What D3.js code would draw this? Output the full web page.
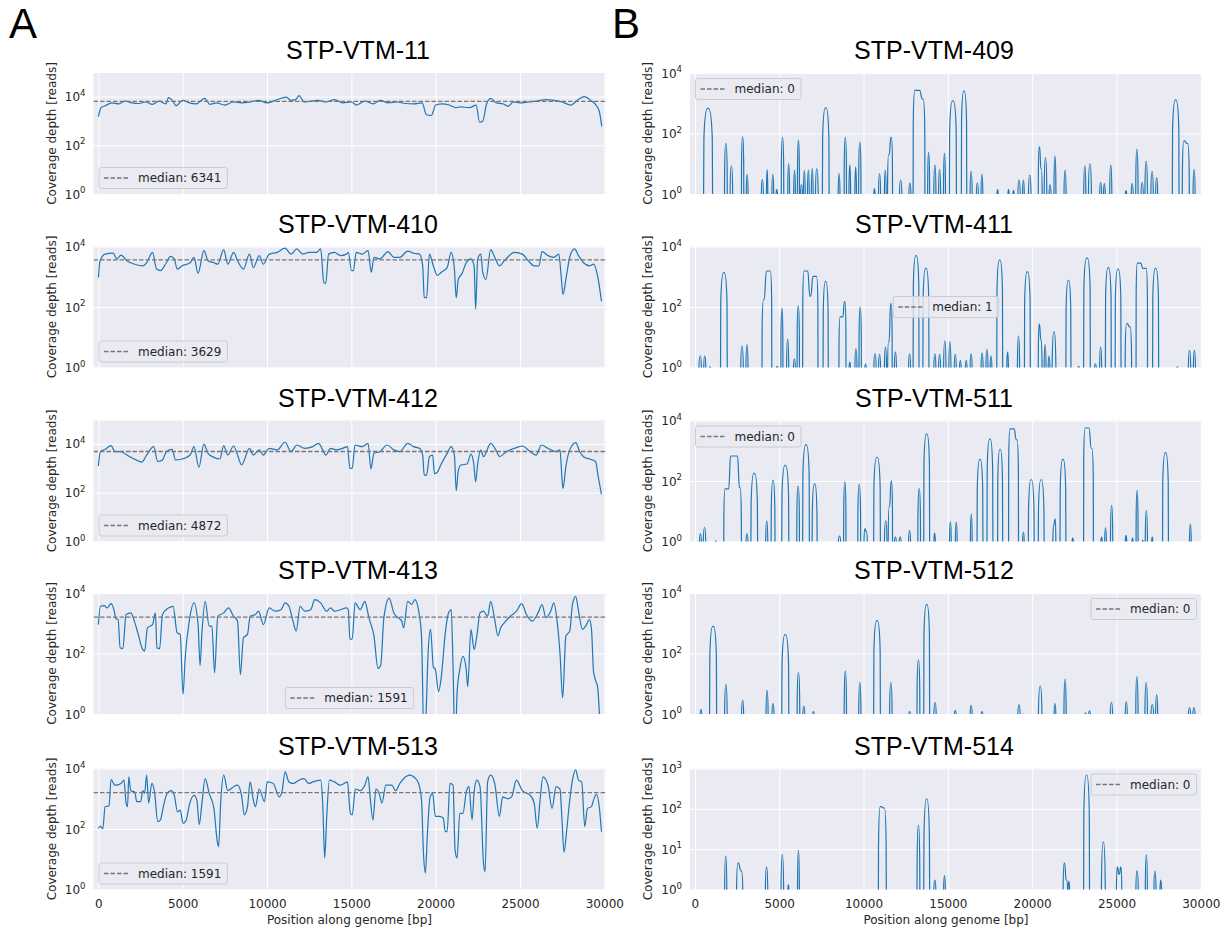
<!DOCTYPE html>
<html>
<head>
<meta charset="utf-8">
<script src="https://cdn.jsdelivr.net/npm/d3@7"></script>
<style>
  body { margin: 0; background: #fff; }
  svg { display: block; font-family: 'DejaVu Sans', sans-serif; }
</style>
</head>
<body>
<svg width="1229" height="932"></svg>
<script>
'use strict';

// ---- data: column A (continuous coverage), [position bp, depth reads]
var cov11 = [[0,1500],[150,3500],[400,4200],[800,5500],[1200,5000],[1600,6500],[2000,5500],[2400,5200],[2800,6000],[3200,4800],[3600,6500],[4000,5000],[4150,9000],[4450,6000],[4600,4200],[5000,7000],[5400,5500],[5800,5000],[6300,8500],[6600,4800],[7000,5500],[7500,4500],[8000,6000],[8500,5500],[9000,6000],[9500,7000],[10000,5500],[10500,7000],[11150,9500],[11400,7000],[11700,7500],[11900,11000],[12200,6000],[12600,6500],[13000,7000],[13500,6000],[14000,7500],[14500,5500],[15000,6000],[15300,4500],[15800,6500],[16300,5000],[16700,7000],[17200,5500],[17700,6000],[18200,5200],[18700,5000],[19200,5500],[19450,1800],[19750,1700],[20000,4500],[20400,5000],[20800,4500],[21200,3500],[21500,3800],[22000,3500],[22400,4500],[22600,900],[22800,1000],[23000,4500],[23260,8500],[23600,5500],[24000,5000],[24300,4000],[24600,6000],[25000,5500],[25500,6000],[26000,6500],[26500,7500],[27000,7000],[27500,6000],[28000,4500],[28500,8000],[28800,10000],[29200,7000],[29500,4500],[29700,2500],[29850,600]];

var cov410 = [[0,940],[100,3400],[400,5600],[870,6000],[1100,3900],[1340,5200],[1690,3400],[2160,2600],[2630,2300],[2860,2900],[3210,6400],[3450,1800],[3680,1600],[4030,2900],[4270,4700],[4500,3900],[4670,1800],[4970,2300],[5440,2900],[5670,4400],[5910,1300],[6260,7300],[6500,3400],[6850,2900],[7080,2600],[7430,7900],[7670,2600],[8020,6400],[8250,3400],[8600,1800],[8960,5600],[9190,2000],[9540,5000],[9780,2600],[10130,5600],[10600,6400],[11070,8800],[11420,5600],[11770,8300],[12120,5600],[12480,6400],[12940,6400],[13180,8300],[13370,640],[13480,600],[13650,5600],[14000,6400],[14350,5000],[14700,5600],[14820,6400],[15010,1600],[15120,1600],[15290,6400],[15640,5600],[15990,7300],[16180,1400],[16340,4400],[16700,3900],[17170,6800],[17520,4400],[17870,4400],[18340,7000],[18690,6000],[19040,5600],[19230,2300],[19320,215],[19460,200],[19630,5600],[19860,2300],[20100,1100],[20330,1400],[20680,2000],[20920,6400],[21110,1800],[21220,200],[21340,820],[21570,1300],[21810,2900],[22090,3900],[22280,2300],[22370,85],[22490,3900],[22680,5600],[22790,1400],[22980,820],[23260,7900],[23500,4400],[23780,2300],[24080,3400],[24670,6400],[25140,5600],[25490,3400],[25840,2300],[26120,2300],[26310,6800],[26660,5000],[27010,4400],[27300,5600],[27440,1070],[27550,260],[27720,820],[27950,4400],[28230,8300],[28470,5000],[28770,2900],[29120,2300],[29360,2600],[29640,820],[29830,155]];

var cov412 = [[0,1250],[120,4840],[400,6000],[750,8500],[985,4800],[1340,4800],[1690,3500],[2160,2350],[2580,1800],[2860,3500],[3280,7700],[3520,1900],[3800,2200],[4030,4800],[4380,6000],[4570,2200],[4970,2400],[5440,3500],[5670,7700],[5960,1100],[6260,9700],[6500,4100],[6850,2800],[7200,2400],[7430,8500],[7670,3500],[8020,8200],[8250,3500],[8490,1370],[8960,6600],[9190,3500],[9540,5700],[9780,3500],[10130,6600],[10600,5700],[11070,11700],[11420,4800],[11770,9000],[12240,6600],[12710,7700],[13060,10600],[13300,5700],[13480,3500],[13770,6600],[14120,5700],[14470,6600],[14770,7700],[14910,1000],[15050,1000],[15220,9000],[15640,7700],[15990,10600],[16160,950],[16340,4100],[16700,4800],[17120,9000],[17520,5700],[17870,4800],[18340,10600],[18690,7700],[19040,6600],[19230,3500],[19320,530],[19460,530],[19630,3000],[19820,3500],[19930,600],[20100,700],[20330,1500],[20680,4100],[20920,7700],[21110,3500],[21220,120],[21340,800],[21500,1370],[21860,1500],[22090,3800],[22260,1500],[22370,280],[22490,1500],[22680,5700],[22840,3000],[23260,10600],[23620,4800],[23780,3000],[24200,4800],[24670,6600],[25140,8200],[25610,4800],[25960,3500],[26270,9000],[26660,6600],[27140,4800],[27370,5700],[27490,380],[27550,150],[27720,1180],[27950,5700],[28300,11300],[28540,4800],[28770,3000],[29120,2400],[29480,1900],[29640,450],[29830,85]];

var cov413 = [[0,900],[120,3640],[350,3800],[520,3200],[750,4450],[940,2500],[1030,1440],[1170,1320],[1290,155],[1450,145],[1640,1940],[1920,2200],[2160,1050],[2340,480],[2580,155],[2740,120],[2910,700],[3210,900],[3380,2200],[3470,155],[3630,145],[3800,1940],[4150,3200],[4430,3640],[4670,480],[4850,430],[5020,4.5],[5140,63],[5390,1180],[5670,4700],[5910,900],[6030,40],[6140,480],[6330,5300],[6570,800],[6730,800],[6890,23],[7080,1700],[7430,2200],[7710,3200],[8020,1700],[8250,1180],[8420,20],[8600,330],[8840,430],[9000,1700],[9310,1940],[9500,2500],[9780,900],[10130,3200],[10480,2500],[10830,2800],[11070,4700],[11300,3640],[11540,1180],[11730,550],[11960,3640],[12240,2500],[12590,2800],[12830,6000],[13180,4700],[13530,2500],[13770,3200],[14000,2500],[14350,2800],[14700,3200],[14820,2800],[14910,300],[15050,300],[15220,4700],[15520,2800],[15800,5300],[16040,1530],[16340,380],[16580,32],[16740,41],[16930,1530],[17240,6800],[17520,2200],[17750,1530],[17990,1180],[18100,700],[18340,5300],[18580,4150],[18760,6000],[19040,1700],[19160,380],[19320,0],[19440,1.4],[19560,135],[19700,630],[19860,36],[19980,30],[20170,5.5],[20330,16],[20570,480],[20760,2200],[20920,2800],[21030,36],[21150,0],[21270,5],[21430,30],[21620,80],[21810,30],[21900,8],[22090,630],[22280,135],[22440,380],[22630,2200],[22840,2500],[23080,1700],[23260,5300],[23500,1320],[23690,380],[23850,700],[24080,1050],[24430,1700],[24790,2500],[25100,4450],[25380,1940],[25730,1180],[26070,2200],[26310,4150],[26540,1530],[26820,2500],[27010,4700],[27200,1180],[27370,105],[27530,3.4],[27720,380],[27950,550],[28110,4150],[28300,7750],[28490,2200],[28700,630],[28890,800],[29120,1320],[29240,630],[29360,26],[29480,13],[29600,8],[29710,1]];

var cov513 = [[0,105],[120,125],[260,100],[400,550],[630,580],[750,4300],[985,2800],[1340,3200],[1520,4100],[1640,720],[1730,550],[1800,5300],[1920,1850],[2160,1650],[2270,800],[2510,800],[2630,1850],[2740,1500],[2860,6000],[2980,720],[3170,3200],[3330,1650],[3520,175],[3680,200],[3870,620],[4080,1500],[4310,1850],[4500,1300],[4690,370],[4850,420],[5020,155],[5210,200],[5390,620],[5670,1300],[5840,900],[5980,140],[6140,720],[6330,4600],[6570,1500],[6850,480],[7040,43],[7130,26],[7250,720],[7430,6000],[7670,1850],[8020,2500],[8250,2800],[8490,1300],[8650,290],[8840,550],[9000,3600],[9190,900],[9310,550],[9540,2100],[9850,800],[10010,3600],[10370,3200],[10720,1150],[10880,1650],[11070,7700],[11300,3600],[11540,3200],[11890,4100],[12190,4600],[12480,3200],[12710,3600],[13180,4100],[13300,720],[13420,11],[13530,200],[13700,4100],[14000,3600],[14350,2800],[14770,3600],[14940,330],[15050,290],[15240,2100],[15520,1850],[15800,2800],[15990,5300],[16130,900],[16280,200],[16460,2100],[16650,1500],[16810,720],[17050,2800],[17400,2800],[17630,1850],[17870,3200],[18100,4600],[18460,6000],[18810,4600],[18990,3200],[19160,900],[19280,14],[19390,3.5],[19510,70],[19670,1150],[19820,1500],[19980,260],[20210,260],[20450,230],[20570,82],[20680,82],[20850,3200],[21030,2800],[21150,20],[21270,11],[21430,330],[21620,330],[21810,1650],[21970,2500],[22160,200],[22280,1650],[22440,4100],[22630,2500],[22840,7],[22930,3.9],[23080,3600],[23260,6000],[23500,3200],[23780,260],[23970,1150],[24260,1000],[24500,1150],[24790,4100],[25140,1850],[25610,1300],[25840,720],[26020,105],[26190,900],[26360,5300],[26660,2800],[26900,480],[27140,2500],[27370,2100],[27490,200],[27610,17],[27770,93],[27950,900],[28110,4100],[28300,9000],[28470,4100],[28660,3600],[28840,120],[29000,480],[29240,550],[29360,900],[29530,1400],[29710,480],[29830,82]];

// ---- data: column B (covered islands), [start bp, end bp, depth plateau(s)...]
var peaks409 = [[515,1050,680],[1755,1920,46],[2080,2250,8.4],[2760,2900,77],[3040,3160,4.4],[3930,4070,3],[4240,4330,6.4],[4560,4680,4.4],[4800,4910,1.4],[5120,5270,73],[5500,5620,10],[5850,5970,6],[6080,6200,60],[6250,6390,2],[6430,6550,5.8],[6670,6790,6],[6900,7020,6.8],[7140,7320,6.8],[7560,7960,700],[8490,8610,4.6],[8850,8990,74],[9130,9240,9],[9480,9590,7.7],[9710,9850,52],[10600,10690,1.5],[10880,11020,4.6],[11230,11350,6],[11420,11720,20,74],[12120,12280,2.9],[12680,12820,2.3],[12940,13640,2650,2650,1400],[13800,13920,24],[14160,14300,9],[14440,14580,6.4],[14740,14860,22],[15090,15510,1200],[15800,16120,2500],[16310,16450,5.5],[16680,16820,2.3],[16960,17080,4.4],[17900,18000,1.4],[18550,18650,1.4],[18840,18950,1.3],[19140,19300,2.9],[19420,19540,2.9],[19770,19940,4.1],[20360,20600,36,6.8],[20710,20870,16],[20990,21130,2],[21290,21410,18],[21880,22020,6],[23050,23190,8.4],[23330,23520,10],[23990,24130,2.4],[24220,24340,2.2],[24590,24730,9],[25510,25620,1.3],[25860,26000,2.2],[26140,26280,30],[26440,26600,2.4],[26680,26840,12],[27030,27190,5.5],[27310,27450,3.4],[28310,28710,1300],[28900,29320,57,46],[29530,29670,6.4]];

var peaks411 = [[230,400,2.4],[515,655,2.4],[820,960,1.05],[1520,1920,1360],[2710,2880,5],[3020,3160,5.6],[3980,4560,175,1550,1550],[4800,4940,1.1],[5100,5220,90],[5430,5570,8.5],[5830,5970,1.9],[6060,6200,110],[6390,7300,1550,1550,230,1030,1030],[7600,7910,700],[8540,8960,47,47,150],[9130,9240,1.5],[9480,9620,4.1],[9730,9870,100],[10060,10180,1.3],[10600,10760,2.8],[10880,11020,2.7],[11230,11370,4.6],[11420,11700,7,130],[11820,11960,3.2],[12660,12800,2.8],[12940,13290,4960],[13520,13880,1900],[14160,14300,2.8],[14440,14580,2.7],[14740,14900,7.5],[15050,15190,7],[15370,15510,2.7],[15680,15800,1.7],[16030,16150,1.7],[16310,16450,2.8],[16960,17100,3],[17250,17390,3.8],[17500,17620,2.4],[17900,18250,3560],[18490,18600,3.2],[19120,19260,11],[19540,19890,1440],[20360,20590,27,8],[20700,20830,5.6],[20940,21060,2.4],[21180,21410,15],[22000,22300,760],[22700,22820,1.1],[23050,23450,4150],[23680,23820,1.3],[23990,24130,4.6],[24340,24690,2000],[24920,25270,1780],[25510,25900,28,22],[26160,26840,2800,2800,1900,1900],[27140,27500,1900],[28550,28660,1.05],[29250,29410,3.6],[29550,29690,3.6]];

var peaks511 = [[260,400,1.8],[490,655,2.9],[1190,1290,1.05],[1710,2760,55,55,670,670,670,60],[3020,3160,1.8],[3320,3720,180],[4190,4330,4.7],[4520,4750,105],[5150,5570,330],[6040,6200,66],[6390,6790,1570],[6950,7250,80],[8490,8660,1.5],[8820,8960,93],[9660,9830,77],[10020,10230,2.6,2.1],[10600,11000,610],[11230,11400,4.7],[11460,11720,14,100],[11820,11960,1.4],[12100,12240,1.4],[12660,12800,2.3],[13220,13380,55],[13570,13920,3570],[14160,14270,1.9],[15090,15210,4.5],[15440,15560,4.3],[16330,16450,8],[16730,17080,520],[17320,17670,2430],[17950,18250,1120],[18600,19190,5250,5250,2300],[19420,19540,2],[19770,20120,110],[20360,20710,110],[21220,21410,3.5,5.5],[21650,22000,520],[22350,22460,1.3],[23050,23630,5660,5660,1210],[24060,24170,1.4],[24290,24410,2.8],[24640,24780,15.5],[25510,25620,1.6],[25900,26000,1.3],[26160,26280,48],[26510,26600,1.1],[26700,26840,10.5],[27070,27170,1.4],[27730,28080,870],[29320,29440,3.7]];

var peaks512 = [[300,420,1.4],[870,1290,790],[1755,1920,9.3],[2760,2900,2.8],[4210,4350,5.9],[4560,4700,2.2],[5150,5570,420],[6060,6220,23],[6390,6530,1.8],[6970,7090,1.2],[8850,8990,26],[9710,9850,11],[10600,11000,1230],[11540,11700,11],[12660,12800,1.2],[13170,13340,60],[13570,13920,4150],[14160,14320,2.4],[15370,15510,1.3],[16310,16450,1.9],[16960,17100,1.2],[19140,19300,2],[19420,19540,1],[20360,20590,8.2],[21290,21410,2.2],[21880,22020,14],[23120,23210,1.1],[23330,23470,1.25],[24620,24780,2.4],[25510,25650,2.5],[26140,26280,17],[26680,26840,11],[27030,27210,2],[27310,27450,4.3],[29250,29410,1.6],[29510,29670,1.6]];

var peaks514 = [[1755,1900,6.7],[2460,2850,4.5,2.9],[4170,4330,3.6],[5100,5270,7.2],[5500,5590,1.3],[6080,6200,9.3],[10880,11350,114,105],[13170,13340,39],[13570,13920,175],[14160,14300,1.7],[14740,14860,2.2],[21830,22110,4.5,1.7],[22120,22230,1.6],[23050,23400,690],[24100,24340,15],[24990,25320,3.6,2.4,3.6],[26140,26300,2.9],[26700,26840,7.2],[27210,27350,2.8],[27570,27680,1.7]];

var leftNames = ['STP-VTM-11', 'STP-VTM-410', 'STP-VTM-412', 'STP-VTM-413', 'STP-VTM-513'];
var rightNames = ['STP-VTM-409', 'STP-VTM-411', 'STP-VTM-511', 'STP-VTM-512', 'STP-VTM-514'];
var leftMedians = [6341, 3629, 4872, 1591, 1591];
var rightMedians = [0, 1, 0, 0, 0];
var leftYMax = [93000, 10000, 91000, 10000, 10000];
var rightYMax = [10000, 10000, 10000, 10000, 1000];
var leftLegendLoc = ['lower left', 'lower left', 'lower left', 'lower center', 'lower left'];
var rightLegendLoc = ['upper left', 'center', 'upper left', 'upper right', 'upper right'];
var xTicks = [0, 5000, 10000, 15000, 20000, 25000, 30000];

// ---- layout
var PLOT_W = 512, PLOT_H = 121;
var COL_X = [93.5, 690];
var ROW_Y = [73, 246.5, 420.5, 593, 768.5];
var TITLE_SHIFT = [8.5, -12];
var X_DOMAIN = [-290, 30070];
var BG = '#eaeaf2', LINE = '#1f77b4', TEXT = '#262626';

var svg = d3.select('svg');

// one covered island: steep log-scale flanks, rounded top, optional shoulders
function bumpPath(p, x, y, yBottom, decade) {
    var hs = p.slice(2);
    var x0 = x(p[0]), x1 = x(p[1]);
    var n = hs.length, seg = (x1 - x0) / n;
    var r = Math.min(seg * 0.45, 5);
    var t = Math.min(seg * 0.35, 2.5);
    var path = d3.path();

    var yt = y(hs[0]);
    var d = Math.min(decade, yBottom - yt);
    path.moveTo(x0, yBottom);
    path.lineTo(x0 + r * 0.08, yt + d);
    path.bezierCurveTo(x0 + r * 0.25, yt + d * 0.3, x0 + r * 0.5, yt, x0 + r, yt);

    for (var i = 1; i < n; i++) {
        var xm = x0 + i * seg, ya = y(hs[i - 1]), yb = y(hs[i]);
        path.lineTo(xm - t, ya);
        path.bezierCurveTo(xm, ya, xm, yb, xm + t, yb);
    }

    var yl = y(hs[n - 1]);
    d = Math.min(decade, yBottom - yl);
    path.lineTo(x1 - r, yl);
    path.bezierCurveTo(x1 - r * 0.5, yl, x1 - r * 0.25, yl + d * 0.3, x1 - r * 0.08, yl + d);
    path.lineTo(x1, yBottom);
    return path.toString();
}

function legend(g, loc, label) {
    var h = 21, pad = 5.5;
    var lg = g.append('g');
    var box = lg.append('rect')
        .attr('height', h).attr('rx', 2.5)
        .attr('fill', BG).attr('fill-opacity', 0.8)
        .attr('stroke', '#cccccc').attr('stroke-width', 1);
    lg.append('line')
        .attr('x1', 5).attr('x2', 29).attr('y1', h / 2).attr('y2', h / 2)
        .attr('stroke', '#777').attr('stroke-width', 1.3).attr('stroke-dasharray', '4.5,2');
    var txt = lg.append('text')
        .attr('x', 39).attr('y', h / 2 + 4.3)
        .attr('font-size', 12).attr('fill', TEXT)
        .text(label);
    var w = 39 + txt.node().getComputedTextLength() + 6;
    box.attr('width', w);
    var lx = pad, ly = pad;
    if (loc.indexOf('right') >= 0) lx = PLOT_W - pad - w;
    if (loc === 'lower center' || loc === 'center') lx = (PLOT_W - w) / 2;
    if (loc.indexOf('lower') >= 0) ly = PLOT_H - pad - h;
    if (loc === 'center') ly = (PLOT_H - h) / 2;
    lg.attr('transform', 'translate(' + lx + ',' + ly + ')');
}

function drawPanel(col, row, cfg) {
    var x = d3.scaleLinear().domain(X_DOMAIN).range([0, PLOT_W]);
    var y = d3.scaleLog().domain([1, cfg.ymax]).range([PLOT_H, 0]);
    var g = svg.append('g')
        .attr('transform', 'translate(' + COL_X[col] + ',' + ROW_Y[row] + ')');
    var clipId = 'clip-' + col + '-' + row;

    g.append('clipPath').attr('id', clipId)
        .append('rect').attr('width', PLOT_W).attr('height', PLOT_H);
    g.append('rect').attr('width', PLOT_W).attr('height', PLOT_H).attr('fill', BG);

    var yTicks = cfg.yTicks;

    // grid
    g.append('g')
        .call(d3.axisBottom(x).tickValues(xTicks).tickSize(PLOT_H).tickFormat(''))
        .call(function(a) {
            a.select('.domain').remove();
            a.selectAll('line').attr('stroke', '#fff').attr('stroke-width', 1);
        });
    g.append('g')
        .call(d3.axisLeft(y).tickValues(yTicks).tickSize(-PLOT_W).tickFormat(''))
        .call(function(a) {
            a.select('.domain').remove();
            a.selectAll('line').attr('stroke', '#fff').attr('stroke-width', 1);
        });

    // y tick labels 10^n
    var yl = g.append('g').attr('font-size', 12).attr('fill', TEXT);
    yl.selectAll('text')
        .data(yTicks)
        .enter()
        .append('text')
        .attr('x', -8)
        .attr('y', function(d) { return y(d) + 4.5; })
        .attr('text-anchor', 'end')
        .each(function(d) {
            var t = d3.select(this);
            t.append('tspan').text('10');
            t.append('tspan').attr('dy', -5.5).attr('font-size', 8.5)
                .text(Math.round(Math.log10(d)));
        });

    var plot = g.append('g').attr('clip-path', 'url(#' + clipId + ')');

    if (cfg.cov) {
        var line = d3.line()
            .curve(d3.curveMonotoneX)
            .x(function(d) { return x(d[0]); })
            .y(function(d) { return y(Math.max(d[1], 0.05)); });
        plot.append('path')
            .datum(cfg.cov)
            .attr('d', line)
            .attr('fill', 'none')
            .attr('stroke', LINE)
            .attr('stroke-width', 1.2)
            .attr('stroke-linejoin', 'round');
    } else {
        var decade = y(1) - y(10);
        plot.selectAll('path.peak')
            .data(cfg.peaks)
            .enter()
            .append('path')
            .attr('class', 'peak')
            .attr('d', function(p) { return bumpPath(p, x, y, PLOT_H + 4, decade); })
            .attr('fill', 'none')
            .attr('stroke', LINE)
            .attr('stroke-width', 1.2);
    }

    if (cfg.median > 1) {
        plot.append('line')
            .attr('x1', 0).attr('x2', PLOT_W)
            .attr('y1', y(cfg.median)).attr('y2', y(cfg.median))
            .attr('stroke', '#777').attr('stroke-width', 1.3)
            .attr('stroke-dasharray', '4.5,2');
    }

    legend(g, cfg.loc, 'median: ' + cfg.median);

    // title
    g.append('text')
        .attr('x', PLOT_W / 2 + TITLE_SHIFT[col])
        .attr('y', -14)
        .attr('text-anchor', 'middle')
        .attr('font-family', "'Liberation Sans', Arial, sans-serif")
        .attr('font-size', 25)
        .attr('fill', '#000')
        .text(cfg.name);

    // y label
    g.append('text')
        .attr('transform', 'translate(-38,' + (PLOT_H / 2) + ') rotate(-90)')
        .attr('text-anchor', 'middle')
        .attr('font-size', 12)
        .attr('fill', TEXT)
        .text('Coverage depth [reads]');

    if (row === 4) {
        g.append('g')
            .attr('transform', 'translate(0,' + PLOT_H + ')')
            .call(d3.axisBottom(x).tickValues(xTicks).tickSize(0).tickPadding(9.5).tickFormat(d3.format('d')))
            .call(function(a) {
                a.select('.domain').remove();
                a.selectAll('text').attr('font-size', 12).attr('fill', TEXT)
                    .attr('font-family', "'DejaVu Sans', sans-serif");
            });
        g.append('text')
            .attr('x', PLOT_W / 2)
            .attr('y', PLOT_H + 34.5)
            .attr('text-anchor', 'middle')
            .attr('font-size', 12)
            .attr('fill', TEXT)
            .text('Position along genome [bp]');
    }
}

var leftCov = [cov11, cov410, cov412, cov413, cov513];
var rightPeaks = [peaks409, peaks411, peaks511, peaks512, peaks514];

function ticksFor(ymax) {
    return ymax <= 1000 ? [1, 10, 100, 1000] : [1, 100, 10000];
}

for (var i = 0; i < 5; i++) {
    drawPanel(0, i, {
        name: leftNames[i], cov: leftCov[i], median: leftMedians[i],
        ymax: leftYMax[i], yTicks: ticksFor(leftYMax[i]), loc: leftLegendLoc[i]
    });
    drawPanel(1, i, {
        name: rightNames[i], peaks: rightPeaks[i], median: rightMedians[i],
        ymax: rightYMax[i], yTicks: ticksFor(rightYMax[i]), loc: rightLegendLoc[i]
    });
}

// panel letters
svg.append('text').attr('x', 9).attr('y', 38)
    .attr('font-family', "'Liberation Sans', Arial, sans-serif")
    .attr('font-size', 42).attr('fill', '#000').text('A');
svg.append('text').attr('x', 612).attr('y', 38)
    .attr('font-family', "'Liberation Sans', Arial, sans-serif")
    .attr('font-size', 42).attr('fill', '#000').text('B');
</script>
</body>
</html>
